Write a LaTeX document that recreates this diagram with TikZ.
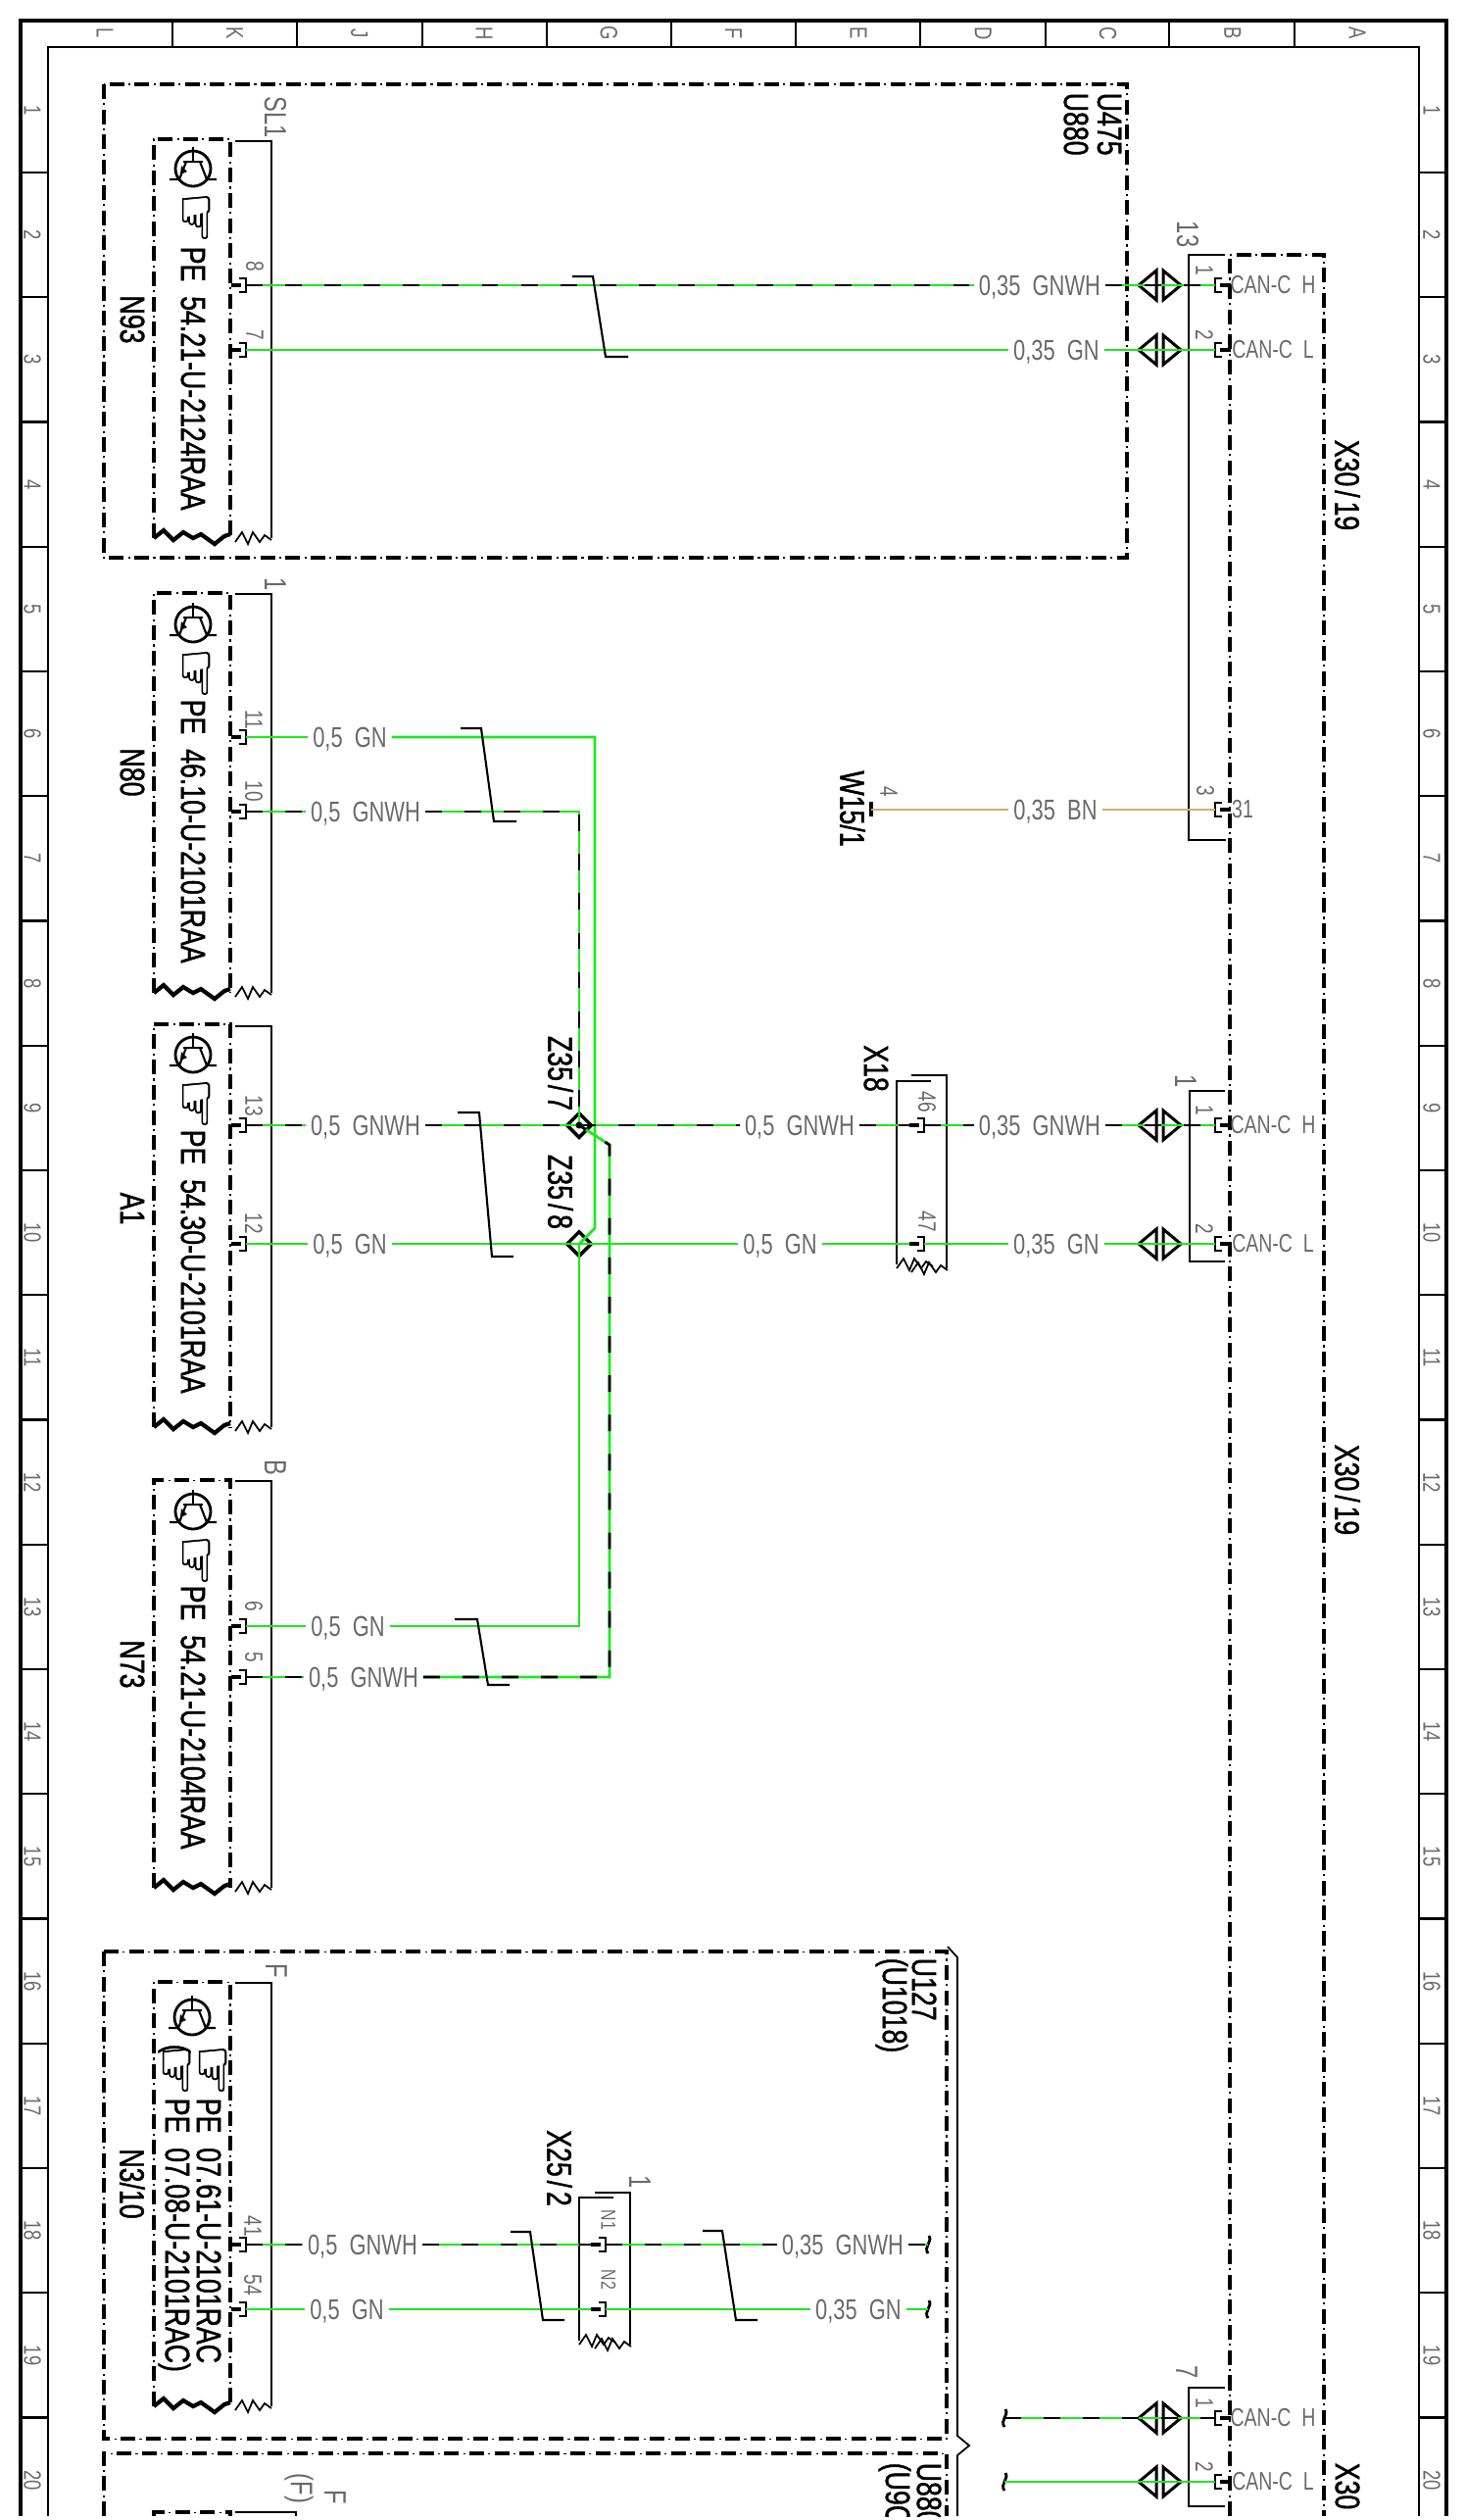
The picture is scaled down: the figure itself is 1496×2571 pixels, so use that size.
\documentclass[tikz,border=0pt]{standalone}
\usepackage{fontspec}
\usetikzlibrary{shapes.geometric}
\newfontfamily\wirefont[FakeStretch=0.75]{Liberation Sans}
\newfontfamily\partfont[FakeStretch=0.76,FakeBold=1.2]{Liberation Sans}
\newfontfamily\symfont[FakeBold=1]{DejaVu Sans}
\newcommand{\slashgap}{\kern1.1pt/\kern1.1pt}
\definecolor{wiregreen}{HTML}{1EE81E}
\definecolor{wirebrown}{HTML}{D6AA74}
\definecolor{labelgray}{HTML}{6A6A6A}
\tikzset{
    wiregn/.style={draw=wiregreen, line width=0.8pt},
    wiregnwh/.style={draw=wiregreen, line width=0.8pt, postaction={draw=black, dash pattern=on 4.8pt off 6.6pt}},
    wirebn/.style={draw=wirebrown, line width=0.8pt},
    thinline/.style={line width=0.5pt},
    twistline/.style={line width=0.6pt},
    partbox/.style={line width=1.35pt, dash pattern=on 4.27pt off 3.04pt, postaction={draw, line width=0.3pt, dash pattern=on 0.6pt off 6.71pt, dash phase=1.82pt}},
    wirelabel/.style={font=\wirefont\fontsize{8.3}{10}\selectfont, text=labelgray, inner sep=1.2pt, text height=6pt, text depth=0pt},
    canlabel/.style={font=\wirefont\fontsize{7.4}{9}\selectfont, text=labelgray, inner sep=0pt},
    pinlabel/.style={font=\wirefont\fontsize{7.2}{9}\selectfont, text=labelgray, inner sep=0pt, rotate=-90},
    marklabel/.style={font=\wirefont\fontsize{9}{11}\selectfont, text=labelgray, inner sep=0pt, rotate=-90},
    gridlabel/.style={font=\wirefont\fontsize{7}{9}\selectfont, text=labelgray, inner sep=0pt, rotate=-90},
    partlabel/.style={font=\partfont\fontsize{10}{12}\selectfont, inner sep=0pt, rotate=-90},
    handmark/.style={font=\symfont\fontsize{17}{17}\selectfont, inner sep=0pt, rotate=-90},
    splice/.style={shape=diamond, draw, line width=1pt, minimum size=7.4pt, inner sep=0pt},
    splicedot/.style={shape=circle, fill=black, minimum size=2pt, inner sep=0pt},
    leftpin/.pic={
        \draw[line width=1pt] (-15,0) -- (-5,0);
        \draw[line width=0.7pt] (-7,-7) -- (0,-7) -- (0,7) -- (-7,7);
    },
    rightpin/.pic={
        \draw[line width=0.7pt] (7,-7) -- (0,-7) -- (0,7) -- (7,7);
        \draw[line width=1pt] (5,0) -- (16,0);
    },
    plugpair/.pic={
        \draw[line width=0.85pt] (-3,-15) -- (-21,0) -- (-3,15) -- cycle;
        \draw[line width=0.85pt] (4,-15) -- (22,0) -- (4,15) -- cycle;
    },
    wireend/.pic={
        \draw[line width=0.8pt] (1,-9) .. controls (5,-3) and (-5,2) .. (0,9);
    },
    transistor/.pic={
        \draw[line width=0.8pt] (0,0) circle (18);
        \draw[thinline] (0,-22) -- (0,-7);
        \draw[line width=0.8pt] (-10,-7) -- (10,-7);
        \draw[line width=0.6pt] (-24,11) -- (-14,11) -- (-7,-7);
        \draw[line width=0.6pt] (24,11) -- (14,11) -- (7,-7);
        \fill (-13,6) -- (-12,-3) -- (-6,3) -- cycle;
    },
    boldzig/.pic={
        \draw[line width=1.2pt] (0,0) -- (10,-8) -- (20,2) -- (30,-6) -- (40,0) -- (48,-4) -- (62,6) -- (72,-2) -- (78,-4);
    },
    thinzig/.pic={
        \draw[thinline] (0,4) -- (7,-6) -- (13,6) -- (18,-6) -- (25,4) -- (30,-3) -- (37,2);
    }
}

\begin{document}
\begin{tikzpicture}[x=0.01cm, y=-0.01cm]
    \useasboundingbox (0,0) rectangle (1496,2571);
    \clip (0,0) rectangle (1496,2567);

    % Sheet frame with its grid
    \draw[line width=1pt] (21,2567) -- (21,21) -- (1476,21) -- (1476,2567);
    \draw[line width=0.6pt] (49,2567) -- (49,48) -- (1448,48) -- (1448,2567);
    \foreach \tick in {176,303,431,558,685,812,939,1067,1193,1321}
        \draw[line width=0.6pt] (\tick,21) -- (\tick,48);
    \foreach \k in {0,...,18} {
        \draw[line width=0.6pt] (21,176+127.25*\k) -- (49,176+127.25*\k);
        \draw[line width=0.6pt] (1448,176+127.25*\k) -- (1476,176+127.25*\k);
    }
    \node[gridlabel] (colL) at (107,34) {L};
    \foreach \colname [count=\i from 0] in {K,J,H,G,F,E,D,C,B,A}
        \node[gridlabel] (col\colname) at (239.5+127.3*\i,34) {\colname};
    \foreach \n in {1,...,20} {
        \node[gridlabel] (rowl\n) at (33,112.5+127.25*\n-127.25) {\n};
        \node[gridlabel] (rowr\n) at (1461,112.5+127.25*\n-127.25) {\n};
    }

    % Dash-dot outlines
    \draw[partbox] (106,86) rectangle (1150,569);
    \draw[partbox] (106,1991) rectangle (966,2488);
    \draw[partbox] (106,2567) -- (106,2503) -- (966,2503) -- (966,2567);
    \draw[partbox] (1255,2567) -- (1255,260) -- (1351,260) -- (1351,2567);
    \draw[thinline] (967,1986) -- (977,1997) -- (977,2485) -- (989,2495) -- (977,2505) -- (977,2567);

    % N93
    \draw[partbox] (157,549) -- (157,142) -- (235,142) -- (235,549);
    \pic at (157,549) {boldzig};
    \draw[thinline] (240,144) -- (277,144) -- (277,549);
    \pic at (240,549) {thinzig};
    \pic at (197,172) {transistor};
    \node[handmark] (n93hand) at (197,222) {☞};
    \node[partlabel, anchor=west] (n93part) at (197,251) {PE\ \ 54.21-U-2124RAA};
    \node[partlabel] (n93) at (135,326) {N93};
    \node[marklabel] (n93sl) at (281,120) {SL1};
    \node[pinlabel] (n93p8) at (260,272) {8};
    \node[pinlabel] (n93p7) at (260,342) {7};
    \pic at (251,291) {leftpin};
    \pic at (251,357) {leftpin};
    \coordinate (n93a) at (251,291);
    \coordinate (n93b) at (251,357);

    % N80
    \draw[partbox] (157,1013) -- (157,605) -- (235,605) -- (235,1013);
    \pic at (157,1013) {boldzig};
    \draw[thinline] (240,606) -- (277,606) -- (277,1013);
    \pic at (240,1013) {thinzig};
    \pic at (197,637) {transistor};
    \node[handmark] (n80hand) at (197,687) {☞};
    \node[partlabel, anchor=west] (n80part) at (197,713) {PE\ \ 46.10-U-2101RAA};
    \node[partlabel] (n80) at (135,788) {N80};
    \node[marklabel] (n80one) at (281,596) {1};
    \node[pinlabel] (n80p11) at (259,734) {11};
    \node[pinlabel] (n80p10) at (259,807) {10};
    \pic at (251,752) {leftpin};
    \pic at (251,828) {leftpin};
    \coordinate (n80a) at (251,752);
    \coordinate (n80b) at (251,828);

    % A1
    \draw[partbox] (157,1456) -- (157,1045) -- (235,1045) -- (235,1456);
    \pic at (157,1456) {boldzig};
    \draw[thinline] (240,1047) -- (277,1047) -- (277,1456);
    \pic at (240,1456) {thinzig};
    \pic at (197,1076) {transistor};
    \node[handmark] (a1hand) at (197,1126) {☞};
    \node[partlabel, anchor=west] (a1part) at (197,1152) {PE\ \ 54.30-U-2101RAA};
    \node[partlabel] (a1) at (135,1233) {A1};
    \node[pinlabel] (a1p13) at (259,1128) {13};
    \node[pinlabel] (a1p12) at (259,1248) {12};
    \pic at (251,1148) {leftpin};
    \pic at (251,1269) {leftpin};
    \coordinate (a1a) at (251,1148);
    \coordinate (a1b) at (251,1269);

    % N73
    \draw[partbox] (157,1926) -- (157,1510) -- (235,1510) -- (235,1926);
    \pic at (157,1926) {boldzig};
    \draw[thinline] (240,1511) -- (277,1511) -- (277,1926);
    \pic at (240,1926) {thinzig};
    \pic at (197,1542) {transistor};
    \node[handmark] (n73hand) at (197,1592) {☞};
    \node[partlabel, anchor=west] (n73part) at (197,1617) {PE\ \ 54.21-U-2104RAA};
    \node[partlabel] (n73) at (135,1698) {N73};
    \node[marklabel] (n73b) at (281,1497) {B};
    \node[pinlabel] (n73p6) at (259,1639) {6};
    \node[pinlabel] (n73p5) at (259,1691) {5};
    \pic at (251,1659) {leftpin};
    \pic at (251,1711) {leftpin};
    \coordinate (n73a) at (251,1659);
    \coordinate (n73c) at (251,1711);

    % N3/10
    \draw[partbox] (157,2455) -- (157,2022) -- (235,2022) -- (235,2455);
    \pic at (157,2455) {boldzig};
    \draw[thinline] (240,2023) -- (277,2023) -- (277,2455);
    \pic at (240,2455) {thinzig};
    \pic at (196,2058) {transistor};
    \node[handmark] (n3handa) at (214,2112) {☞};
    \node[handmark] (n3handb) at (177,2112) {☞};
    \node[partlabel, anchor=west] (n3parta) at (213,2140) {PE\ \ 07.61-U-2101RAC};
    \node[partlabel, anchor=west] (n3partb) at (178,2140) {PE\ \ 07.08-U-2101RAC)};
    \node[partlabel, anchor=west] (n3paren) at (178,2085) {(};
    \node[partlabel] (n310) at (135,2228) {N3/10};
    \node[marklabel] (n3f) at (282,2011) {F};
    \node[pinlabel] (n3p41) at (258,2271) {41};
    \node[pinlabel] (n3p54) at (258,2331) {54};
    \pic at (251,2290) {leftpin};
    \pic at (251,2356) {leftpin};
    \coordinate (n3a) at (251,2290);
    \coordinate (n3b) at (251,2356);

    % Next unit, cut off by the sheet
    \draw[partbox] (157,2567) -- (157,2563) -- (235,2563) -- (235,2567);
    \draw[thinline] (240,2563) -- (302,2563) -- (302,2567);
    \node[marklabel] (nextf) at (305,2539) {(F)};
    \node[marklabel] (nextfb) at (342,2548) {F};

    % Unit labels
    \node[partlabel, anchor=west] (u475) at (1132,94) {U475};
    \node[partlabel, anchor=west] (u880) at (1098,94) {U880};
    \node[partlabel, anchor=west] (u127) at (943,1997) {U127};
    \node[partlabel, anchor=west] (u1018) at (910,1997) {(U1018)};
    \node[partlabel, anchor=west] (u880b) at (948,2512) {U880};
    \node[partlabel, anchor=west] (u9c) at (913,2512) {(U9C};
    \node[partlabel] (x30a) at (1375,495) {X30\slashgap19};
    \node[partlabel] (x30b) at (1375,1520) {X30\slashgap19};
    \node[partlabel, anchor=west] (x30c) at (1375,2512) {X30};

    % Splices and couplers
    \node[splice] (z357) at (591,1148) {};
    \node[splice] (z358) at (591,1269) {};
    \node[partlabel] (z357t) at (572,1095) {Z35\slashgap7};
    \node[partlabel] (z358t) at (572,1216) {Z35\slashgap8};

    \draw[thinline] (950,1103) -- (915,1103) -- (915,1290);
    \draw[thinline] (930,1097) -- (966,1097) -- (966,1294);
    \pic at (915,1290) {thinzig};
    \pic at (930,1294) {thinzig};
    \node[partlabel] (x18) at (894,1090) {X18};
    \node[pinlabel] (x18p46) at (946,1124) {46};
    \node[pinlabel] (x18p47) at (946,1246) {47};
    \pic at (943,1148) {leftpin};
    \pic at (943,1269) {leftpin};
    \coordinate (x18al) at (928,1148);
    \coordinate (x18ar) at (943,1148);
    \coordinate (x18bl) at (928,1269);
    \coordinate (x18br) at (943,1269);

    \draw[thinline] (626,2242) -- (591,2242) -- (591,2388);
    \draw[thinline] (607,2237) -- (643,2237) -- (643,2392);
    \pic at (591,2388) {thinzig};
    \pic at (607,2392) {thinzig};
    \node[partlabel] (x25) at (571,2212) {X25\slashgap2};
    \node[marklabel] (x25one) at (653,2226) {1};
    \node[pinlabel, font=\wirefont\fontsize{6}{7}\selectfont] (x25n1) at (621,2265) {N1};
    \node[pinlabel, font=\wirefont\fontsize{6}{7}\selectfont] (x25n2) at (621,2326) {N2};
    \pic at (618,2290) {leftpin};
    \pic at (618,2356) {leftpin};
    \coordinate (x25al) at (603,2290);
    \coordinate (x25ar) at (618,2290);
    \coordinate (x25bl) at (603,2356);
    \coordinate (x25br) at (618,2356);

    % X30/19 connectors
    \draw[thinline] (1250,260) -- (1213,260) -- (1213,857) -- (1251,857);
    \draw[thinline] (1250,1113) -- (1214,1113) -- (1214,1287) -- (1250,1287);
    \draw[thinline] (1250,2436) -- (1213,2436) -- (1213,2557) -- (1250,2557);
    \node[marklabel] (b13) at (1212,239) {13};
    \node[marklabel] (bone) at (1210,1103) {1};
    \node[marklabel] (bseven) at (1211,2420) {7};
    \foreach \pinname/\ypos/\pinno/\canname in {a/291/1/H, b/357/2/L, c/1148/1/H, d/1269/2/L, e/2467/1/H, f/2532/2/L} {
        \pic at (1183,\ypos) {plugpair};
        \pic at (1240,\ypos) {rightpin};
        \coordinate (can\pinname) at (1240,\ypos);
        \node[pinlabel] (canno\pinname) at (1229,\ypos-15) {\pinno};
        \node[canlabel] (cant\pinname) at (1299,\ypos) {CAN-C\ \ \canname};
    }
    \pic at (1240,826) {rightpin};
    \coordinate (can31) at (1240,826);
    \node[pinlabel] (can3) at (1230,807) {3};
    \node[canlabel] (cant31) at (1268,826) {31};
    \node[partlabel] (w15) at (870,825) {W15/1};
    \node[pinlabel] (w15p4) at (907,808) {4};
    \draw[line width=1pt] (889,818) -- (889,833);
    \coordinate (w15a) at (889,826);

    % Wire labels
    \node[wirelabel] (l1) at (1061,291) {0,35\ \ GNWH};
    \node[wirelabel] (l2) at (1078,357) {0,35\ \ GN};
    \node[wirelabel] (l3) at (357,752) {0,5\ \ GN};
    \node[wirelabel] (l4) at (373,828) {0,5\ \ GNWH};
    \node[wirelabel] (l5) at (1077,826) {0,35\ \ BN};
    \node[wirelabel] (l6) at (373,1148) {0,5\ \ GNWH};
    \node[wirelabel] (l7) at (816,1148) {0,5\ \ GNWH};
    \node[wirelabel] (l8) at (1061,1148) {0,35\ \ GNWH};
    \node[wirelabel] (l9) at (357,1269) {0,5\ \ GN};
    \node[wirelabel] (l10) at (796,1269) {0,5\ \ GN};
    \node[wirelabel] (l11) at (1078,1269) {0,35\ \ GN};
    \node[wirelabel] (l12) at (355,1659) {0,5\ \ GN};
    \node[wirelabel] (l13) at (371,1711) {0,5\ \ GNWH};
    \node[wirelabel] (l14) at (370,2290) {0,5\ \ GNWH};
    \node[wirelabel] (l15) at (354,2356) {0,5\ \ GN};
    \node[wirelabel] (l16) at (860,2290) {0,35\ \ GNWH};
    \node[wirelabel] (l17) at (876,2356) {0,35\ \ GN};

    % Free ends
    \coordinate (enda) at (947,2290);
    \coordinate (endb) at (947,2356);
    \coordinate (endc) at (1025,2467);
    \coordinate (endd) at (1025,2532);
    \pic at (enda) {wireend};
    \pic at (endb) {wireend};
    \pic at (endc) {wireend};
    \pic at (endd) {wireend};

    % Bends
    \coordinate (bendgn) at (607,1253);
    \coordinate (bendwh) at (622,1168);

    % Wires
    \draw[wiregnwh] (n93a) -- (l1);
    \draw[wiregnwh] (l1) -- (cana);
    \draw[wiregn] (n93b) -- (l2);
    \draw[wiregn] (l2) -- (canb);
    \draw[wiregn] (n80a) -- (l3);
    \draw[wiregn] (l3) -| (bendgn) -- (z358.center);
    \draw[wiregnwh] (n80b) -- (l4);
    \draw[wiregnwh] (l4) -| (z357.center);
    \draw[wirebn] (w15a) -- (l5);
    \draw[wirebn] (l5) -- (can31);
    \draw[wiregnwh] (a1a) -- (l6);
    \draw[wiregnwh] (l6) -- (z357.center);
    \draw[wiregnwh] (z357.center) -- (l7);
    \draw[wiregnwh] (l7) -- (x18al);
    \draw[wiregnwh] (x18ar) -- (l8);
    \draw[wiregnwh] (l8) -- (canc);
    \draw[wiregn] (a1b) -- (l9);
    \draw[wiregn] (l9) -- (z358.center);
    \draw[wiregn] (z358.center) -- (l10);
    \draw[wiregn] (l10) -- (x18bl);
    \draw[wiregn] (x18br) -- (l11);
    \draw[wiregn] (l11) -- (cand);
    \draw[wiregn] (n73a) -- (l12);
    \draw[wiregn] (l12) -| (z358.center);
    \draw[wiregnwh] (n73c) -- (l13);
    \draw[wiregnwh] (l13) -| (bendwh) -- (z357.center);
    \draw[wiregnwh] (n3a) -- (l14);
    \draw[wiregnwh] (l14) -- (x25al);
    \draw[wiregnwh] (x25ar) -- (l16);
    \draw[wiregnwh] (l16) -- (enda);
    \draw[wiregn] (n3b) -- (l15);
    \draw[wiregn] (l15) -- (x25bl);
    \draw[wiregn] (x25br) -- (l17);
    \draw[wiregn] (l17) -- (endb);
    \draw[wiregnwh] (endc) -- (cane);
    \draw[wiregn] (endd) -- (canf);
    \node[splicedot] (z357dot) at (z357.center) {};

    % Twisted pairs
    \draw[twistline] (584,282) -- (605,282) -- (618,364) -- (641,364);
    \draw[twistline] (470,743) -- (491,743) -- (504,838) -- (527,838);
    \draw[twistline] (467,1135) -- (489,1135) -- (502,1282) -- (524,1282);
    \draw[twistline] (464,1652) -- (487,1652) -- (498,1719) -- (520,1719);
    \draw[twistline] (521,2277) -- (541,2277) -- (554,2367) -- (576,2367);
    \draw[twistline] (717,2276) -- (737,2276) -- (751,2367) -- (773,2367);
\end{tikzpicture}
\end{document}
